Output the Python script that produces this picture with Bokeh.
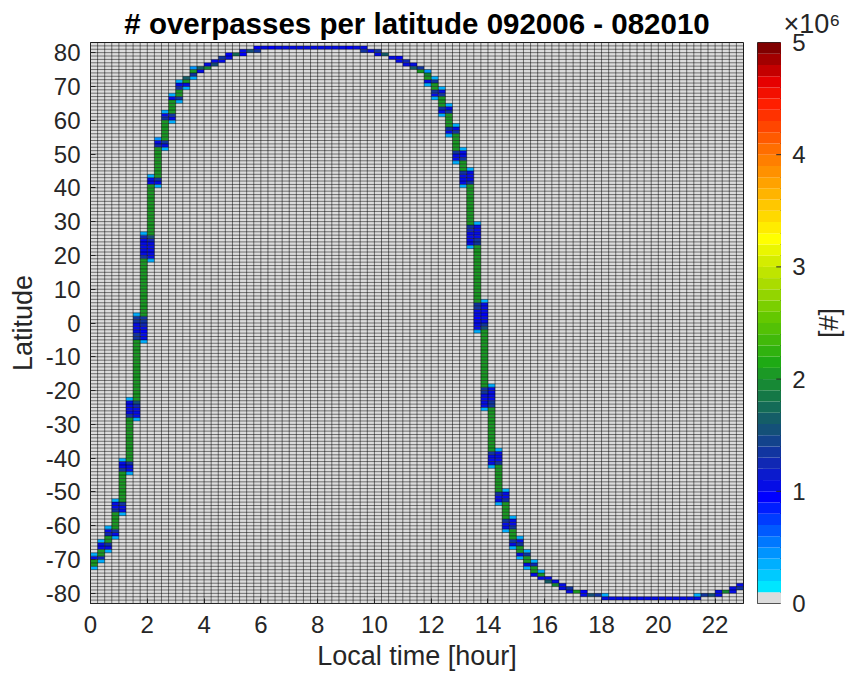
import numpy as np
from bokeh.plotting import figure
from bokeh.layouts import row
from bokeh.models import LinearColorMapper, FixedTicker, Range1d, ColumnDataSource
from bokeh.core.properties import value
from bokeh.embed import file_html
from bokeh.resources import INLINE

# ---------------- data (counts in units of 1e6) ----------------
BIN_H = 0.25    # local-time bin [hour]
t_range = (0, 23)
lat_range = (-83, 83)

# ascending branch, columns 0..12 (column index = local time / 0.25 h)
asc_cols = [0, 1, 2, 3, 4, 5, 6, 7, 8, 9, 10, 11, 12]
asc_first = (-72.5, 0.3)          # lowest cell of column 0
asc_last = (71.5, 0.3)            # highest cell of column 12
# latitude rows shared by two neighbouring columns (transition k -> k+1)
asc_t_lo = [-69.5, -66.5, -62.5, -55.5, -43.5, -27.5, -4.5, 19.5, 41.5, 52.5, 60.5, 66.5]
asc_t_hi = [-69.5, -65.5, -61.5, -53.5, -41.5, -23.5, 1.5, 25.5, 42.5, 53.5, 61.5, 66.5]
asc_ov_a = [[1.0], [1.0, 1.0], [1.2, 1.0], [1.3, 1.0, 1.0], [1.3, 1.0, 1.0],
            [1.4, 1.0, 1.0, 1.0, 1.0], [1.4, 1.4, 1.0, 1.0, 1.0, 1.3, 1.3],
            [1.4, 1.0, 1.0, 1.0, 1.0, 1.0, 1.2], [1.0, 1.0], [1.2, 1.0], [1.3, 1.0], [1.0]]
asc_ov_b = [[1.2], [1.0, 1.3], [1.0, 1.3], [1.0, 1.0, 1.4], [1.0, 1.0, 1.3],
            [1.0, 1.0, 1.0, 1.2, 1.5], [1.0, 1.0, 0.9, 1.0, 1.2, 1.3, 1.3],
            [1.0, 1.0, 1.0, 1.0, 1.0, 1.2, 1.5], [1.0, 1.3], [1.0, 1.3], [1.0, 1.4], [1.3]]
asc_tail_a = [0.3, 0.3, 0.3, 0.3, 0.3, 0.3, 0.3, 0.3, 0.3, 0.4, 0.3, 0.3]
asc_tail_b = [0.3, 0.3, 0.3, 0.3, 0.3, 0.3, 0.3, 0.3, 0.3, 0.3, 0.3, 0.3]
asc_mid = [2.0, 2.0, 2.0, 2.0, 2.0, 2.0, 2.0, 2.0, 2.0, 2.0, 2.0, 2.0, 2.0]

# descending branch, columns 47..62
desc_cols = [47, 48, 49, 50, 51, 52, 53, 54, 55, 56, 57, 58, 59, 60, 61, 62]
desc_first = (74.5, 0.4)          # highest cell of column 47
desc_last = (-74.5, 1.0)          # lowest cell of column 62
desc_t_lo = [71.5, 67.5, 62.5, 56.5, 48.5, 41.5, 23.5, -1.5, -24.5, -41.5, -52.5, -60.5,
             -65.5, -68.5, -71.5]
desc_t_hi = [71.5, 68.5, 63.5, 57.5, 50.5, 44.5, 28.5, 5.5, -19.5, -38.5, -50.5, -58.5,
             -64.5, -68.5, -71.5]
desc_ov_a = [[1.0], [1.0, 1.3], [1.0, 1.3], [1.0, 1.3], [1.0, 1.0, 1.3], [1.0, 1.0, 1.0, 1.3],
             [1.0, 1.0, 1.0, 1.0, 1.2, 1.4], [1.0, 1.0, 1.0, 0.9, 1.0, 1.0, 1.3, 1.4],
             [1.0, 1.0, 1.0, 1.0, 1.3, 1.4], [1.0, 1.0, 1.0, 1.3], [1.0, 1.0, 1.3],
             [1.0, 1.0, 1.3], [1.0, 1.3], [1.0], [1.0]]
desc_ov_b = [[1.3], [1.3, 1.0], [1.3, 1.0], [1.4, 1.0], [1.3, 1.0, 1.0], [1.4, 1.0, 1.0, 1.0],
             [1.4, 1.3, 1.0, 1.0, 1.0, 1.0], [1.5, 1.3, 1.0, 1.0, 0.9, 1.0, 1.0, 1.0],
             [1.4, 1.3, 1.0, 1.0, 1.0, 1.0], [1.3, 1.0, 1.0, 1.0], [1.4, 1.0, 1.0],
             [1.3, 1.0, 1.0], [1.3, 1.0], [1.3], [1.2]]
desc_tail_a = [0.3] * 15
desc_tail_b = [0.3] * 15
desc_mid = [2.0] * 16

# individual cells near the poles
pole_col = [12, 12, 13, 13, 13, 13, 14, 14, 14, 14, 15, 15, 16, 16, 17, 17, 18, 18, 19, 19,
            20, 21, 21, 22, 23, 23,
            24, 25, 26, 27, 28, 29, 30, 31, 32, 33, 34, 35, 36, 37,
            38, 38, 39, 40, 40, 41, 42, 43, 43, 44, 44, 45, 45, 46, 46, 47, 47,
            63, 63, 63, 64, 64, 65, 65, 66, 66, 67, 67, 68, 69, 69, 70, 71, 72, 72,
            73, 74, 75, 76, 77, 78, 79, 80, 81, 82, 83, 84,
            85, 85, 86, 87, 88, 88, 89, 90, 90, 91, 91]
pole_lat = [69.5, 70.5, 69.5, 70.5, 71.5, 72.5, 72.5, 73.5, 74.5, 75.5, 74.5, 75.5, 75.5, 76.5,
            76.5, 77.5, 77.5, 78.5, 78.5, 79.5, 79.5, 79.5, 80.5, 80.5, 80.5, 81.5,
            81.5, 81.5, 81.5, 81.5, 81.5, 81.5, 81.5, 81.5, 81.5, 81.5, 81.5, 81.5, 81.5, 81.5,
            80.5, 81.5, 80.5, 79.5, 80.5, 79.5, 78.5, 77.5, 78.5, 76.5, 77.5, 75.5, 76.5,
            74.5, 75.5, 73.5, 74.5,
            -73.5, -74.5, -75.5, -75.5, -76.5, -76.5, -77.5, -77.5, -78.5, -78.5, -79.5,
            -79.5, -79.5, -80.5, -80.5, -80.5, -80.5, -81.5,
            -81.5, -81.5, -81.5, -81.5, -81.5, -81.5, -81.5, -81.5, -81.5, -81.5, -81.5, -81.5,
            -81.5, -80.5, -80.5, -80.5, -80.5, -79.5, -79.5, -79.5, -78.5, -78.5, -77.5]
pole_val = [1.3, 1.0, 0.3, 1.0, 2.0, 1.6, 0.3, 1.3, 2.0, 0.4, 1.0, 1.6, 1.9, 1.0, 1.5, 1.0,
            1.0, 1.3, 1.0, 0.9, 1.7, 0.9, 1.0, 1.5, 1.4, 0.9,
            1.0, 0.9, 1.0, 1.0, 1.0, 1.0, 1.0, 1.0, 1.0, 1.0, 1.0, 1.0, 0.9, 1.0,
            1.3, 1.0, 1.0, 1.0, 1.3, 1.6, 1.0, 1.0, 0.9, 1.0, 1.2, 1.6, 1.0, 2.0, 1.3,
            1.9, 0.4,
            0.3, 2.0, 1.0, 1.0, 1.6, 1.0, 1.9, 1.0, 1.0, 1.3, 1.0, 2.0, 0.9, 1.0, 1.5, 1.3,
            0.3, 1.0,
            1.0, 1.0, 1.0, 1.0, 1.0, 1.0, 1.0, 1.0, 1.0, 1.0, 1.0, 1.0,
            1.0, 0.3, 1.3, 1.5, 1.0, 1.0, 1.9, 1.0, 1.0, 1.3, 1.0]

cb_ticks = [0, 1, 2, 3, 4, 5]
cb_range = (0, 5)


# ---------------- build the cell table ----------------
def branch(cols, first, last, t_lo, t_hi, ov_a, ov_b, tail_a, tail_b, mids, ascending):
    cells = {}
    for i in range(len(t_lo)):
        ca, cb = cols[i], cols[i + 1]
        n = int(round(t_hi[i] - t_lo[i])) + 1
        for k in range(n):
            lat = t_lo[i] + k
            cells[(ca, lat)] = ov_a[i][k]
            cells[(cb, lat)] = ov_b[i][k]
        if ascending:
            cells[(ca, t_hi[i] + 1)] = tail_a[i]
            cells[(cb, t_lo[i] - 1)] = tail_b[i]
        else:
            cells[(ca, t_lo[i] - 1)] = tail_a[i]
            cells[(cb, t_hi[i] + 1)] = tail_b[i]
    cells[(cols[0], first[0])] = first[1]
    cells[(cols[-1], last[0])] = last[1]
    for j, c in enumerate(cols):
        lats = [la for (cc, la) in cells if cc == c]
        la = min(lats)
        while la < max(lats):
            cells.setdefault((c, la), mids[j])
            la += 1
    return cells

cells = branch(asc_cols, asc_first, asc_last, asc_t_lo, asc_t_hi, asc_ov_a, asc_ov_b,
               asc_tail_a, asc_tail_b, asc_mid, True)
cells.update(branch(desc_cols, desc_first, desc_last, desc_t_lo, desc_t_hi, desc_ov_a,
                    desc_ov_b, desc_tail_a, desc_tail_b, desc_mid, False))
for c, la, v in zip(pole_col, pole_lat, pole_val):
    cells[(c, la)] = v

keys = list(cells)
cx = np.array([k[0] for k in keys], dtype=float) * BIN_H
cy = np.array([k[1] for k in keys], dtype=float)
cv = [cells[k] for k in keys]
src = ColumnDataSource(dict(left=cx, right=cx + BIN_H, bottom=cy - 0.5, top=cy + 0.5, v=cv))

# colormap: 50 levels, lowest level grey (MATLAB style)
anchors = [(0.15, (0, 230, 255)), (0.55, (0, 120, 255)), (0.95, (0, 0, 255)), (1.25, (16, 40, 180)),
           (1.55, (20, 80, 120)), (1.85, (20, 120, 70)), (2.15, (30, 170, 20)), (2.55, (100, 200, 0)),
           (2.85, (170, 220, 0)), (3.25, (255, 255, 0)), (3.65, (255, 180, 0)), (4.05, (255, 110, 0)),
           (4.45, (255, 30, 0)), (4.65, (230, 0, 0)), (4.95, (128, 0, 0))]
pal = ["#dcdcdc"]
for k in range(1, 50):
    c = 0.05 + 0.1 * k
    rgb = anchors[-1][1]
    for (a0, c0), (a1, c1) in zip(anchors[:-1], anchors[1:]):
        if c <= a0:
            rgb = c0
            break
        if a0 <= c <= a1:
            f = (c - a0) / (a1 - a0)
            rgb = tuple(int(round(c0[i] + f * (c1[i] - c0[i]))) for i in range(3))
            break
    pal.append("#%02x%02x%02x" % rgb)
mapper = LinearColorMapper(palette=pal, low=cb_range[0], high=cb_range[1])

FONT = "Liberation Sans"
TXT = "#262626"
H = 677
TOP, BOTTOM = 42, 74

# ---------------- main panel ----------------
p = figure(width=757, height=H, x_range=Range1d(*t_range), y_range=Range1d(*lat_range),
           output_backend="svg", toolbar_location=None,
           min_border_left=90, min_border_right=14, min_border_top=TOP, min_border_bottom=BOTTOM,
           title="# overpasses per latitude 092006 - 082010")
p.title.align = "center"
p.title.text_font = FONT
p.title.text_font_size = "29.5px"
p.title.text_font_style = "bold"
p.title.text_color = "black"
p.title.standoff = 5
p.background_fill_color = "#dcdcdc"
p.border_fill_color = "white"
p.outline_line_color = TXT
p.grid.visible = False

p.quad(left="left", right="right", bottom="bottom", top="top", source=src,
       fill_color={"field": "v", "transform": mapper}, line_color=None)

xe = np.arange(t_range[0], t_range[1] + 1e-9, BIN_H)
ye = np.arange(lat_range[0], lat_range[1] + 1e-9, 1.0)
p.segment(x0=xe, x1=xe, y0=lat_range[0], y1=lat_range[1], line_color="black", line_width=0.5)
p.segment(x0=t_range[0], x1=t_range[1], y0=ye, y1=ye, line_color="black", line_width=0.5)

for a in (p.xaxis[0], p.yaxis[0]):
    a.major_tick_in = 5
    a.major_tick_out = 0
    a.minor_tick_in = 0
    a.minor_tick_out = 0
    a.major_label_text_font = FONT
    a.major_label_text_font_size = "24px"
    a.major_label_text_color = TXT
    a.axis_label_text_font = FONT
    a.axis_label_text_font_size = "27px"
    a.axis_label_text_font_style = "normal"
    a.axis_label_text_color = TXT
    a.axis_line_color = TXT
    a.major_tick_line_color = TXT

p.xaxis.ticker = FixedTicker(ticks=list(range(0, 23, 2)))
yt = list(range(-80, 81, 10))
p.yaxis.ticker = FixedTicker(ticks=yt)
p.yaxis.major_label_overrides = {t: str(t) for t in yt}
p.xaxis.axis_label = "Local time [hour]"
p.yaxis.axis_label = "Latitude"
p.xaxis.major_label_standoff = 12
p.yaxis.major_label_standoff = 10
p.xaxis.axis_label_standoff = 5
p.yaxis.axis_label_standoff = 5

# ---------------- colour bar: the bar itself ----------------
levels = np.linspace(cb_range[0], cb_range[1], len(pal) + 1)
cb_src = ColumnDataSource(dict(bottom=levels[:-1], top=levels[1:], c=pal))
q = figure(width=24, height=H, x_range=Range1d(0, 1), y_range=Range1d(*cb_range),
           output_backend="svg", toolbar_location=None, x_axis_location=None,
           y_axis_location=None, min_border_left=0, min_border_right=0,
           min_border_top=TOP, min_border_bottom=BOTTOM)
q.quad(left=0, right=1, bottom="bottom", top="top", fill_color="c", line_color=None, source=cb_src)
q.segment(x0=0.78, x1=1, y0=cb_ticks[1:-1], y1=cb_ticks[1:-1], line_color=TXT, line_width=1)
q.grid.visible = False
q.outline_line_color = TXT
q.border_fill_color = "white"

# ---------------- colour bar: tick labels (axis), exponent (title) and unit ----------------
r = figure(width=65, height=H, x_range=Range1d(0, 1), y_range=Range1d(*cb_range),
           output_backend="svg", toolbar_location=None, x_axis_location=None,
           y_axis_location="left", title="×10⁶",
           min_border_left=25, min_border_right=0, min_border_top=TOP, min_border_bottom=BOTTOM)
r.grid.visible = False
r.outline_line_color = None
r.border_fill_color = "white"
r.background_fill_color = "white"
r.title.align = "left"
r.title.offset = -23
r.title.standoff = 7
r.title.text_font = FONT
r.title.text_font_size = "27px"
r.title.text_font_style = "normal"
r.title.text_color = TXT
ya = r.yaxis[0]
ya.ticker = FixedTicker(ticks=cb_ticks)
ya.major_tick_in = 0
ya.major_tick_out = 0
ya.minor_tick_in = 0
ya.minor_tick_out = 0
ya.axis_line_color = None
ya.major_label_standoff = 1
ya.major_label_text_font = FONT
ya.major_label_text_font_size = "24px"
ya.major_label_text_color = TXT
r.text(x=[0.55], y=[(cb_range[0] + cb_range[1]) / 2], text=["[#]"], angle=np.pi / 2,
       text_align="center", text_baseline="middle", text_font=value(FONT),
       text_font_size="27px", text_color=TXT)

open("out.html", "w").write(file_html(row(p, q, r), INLINE))
